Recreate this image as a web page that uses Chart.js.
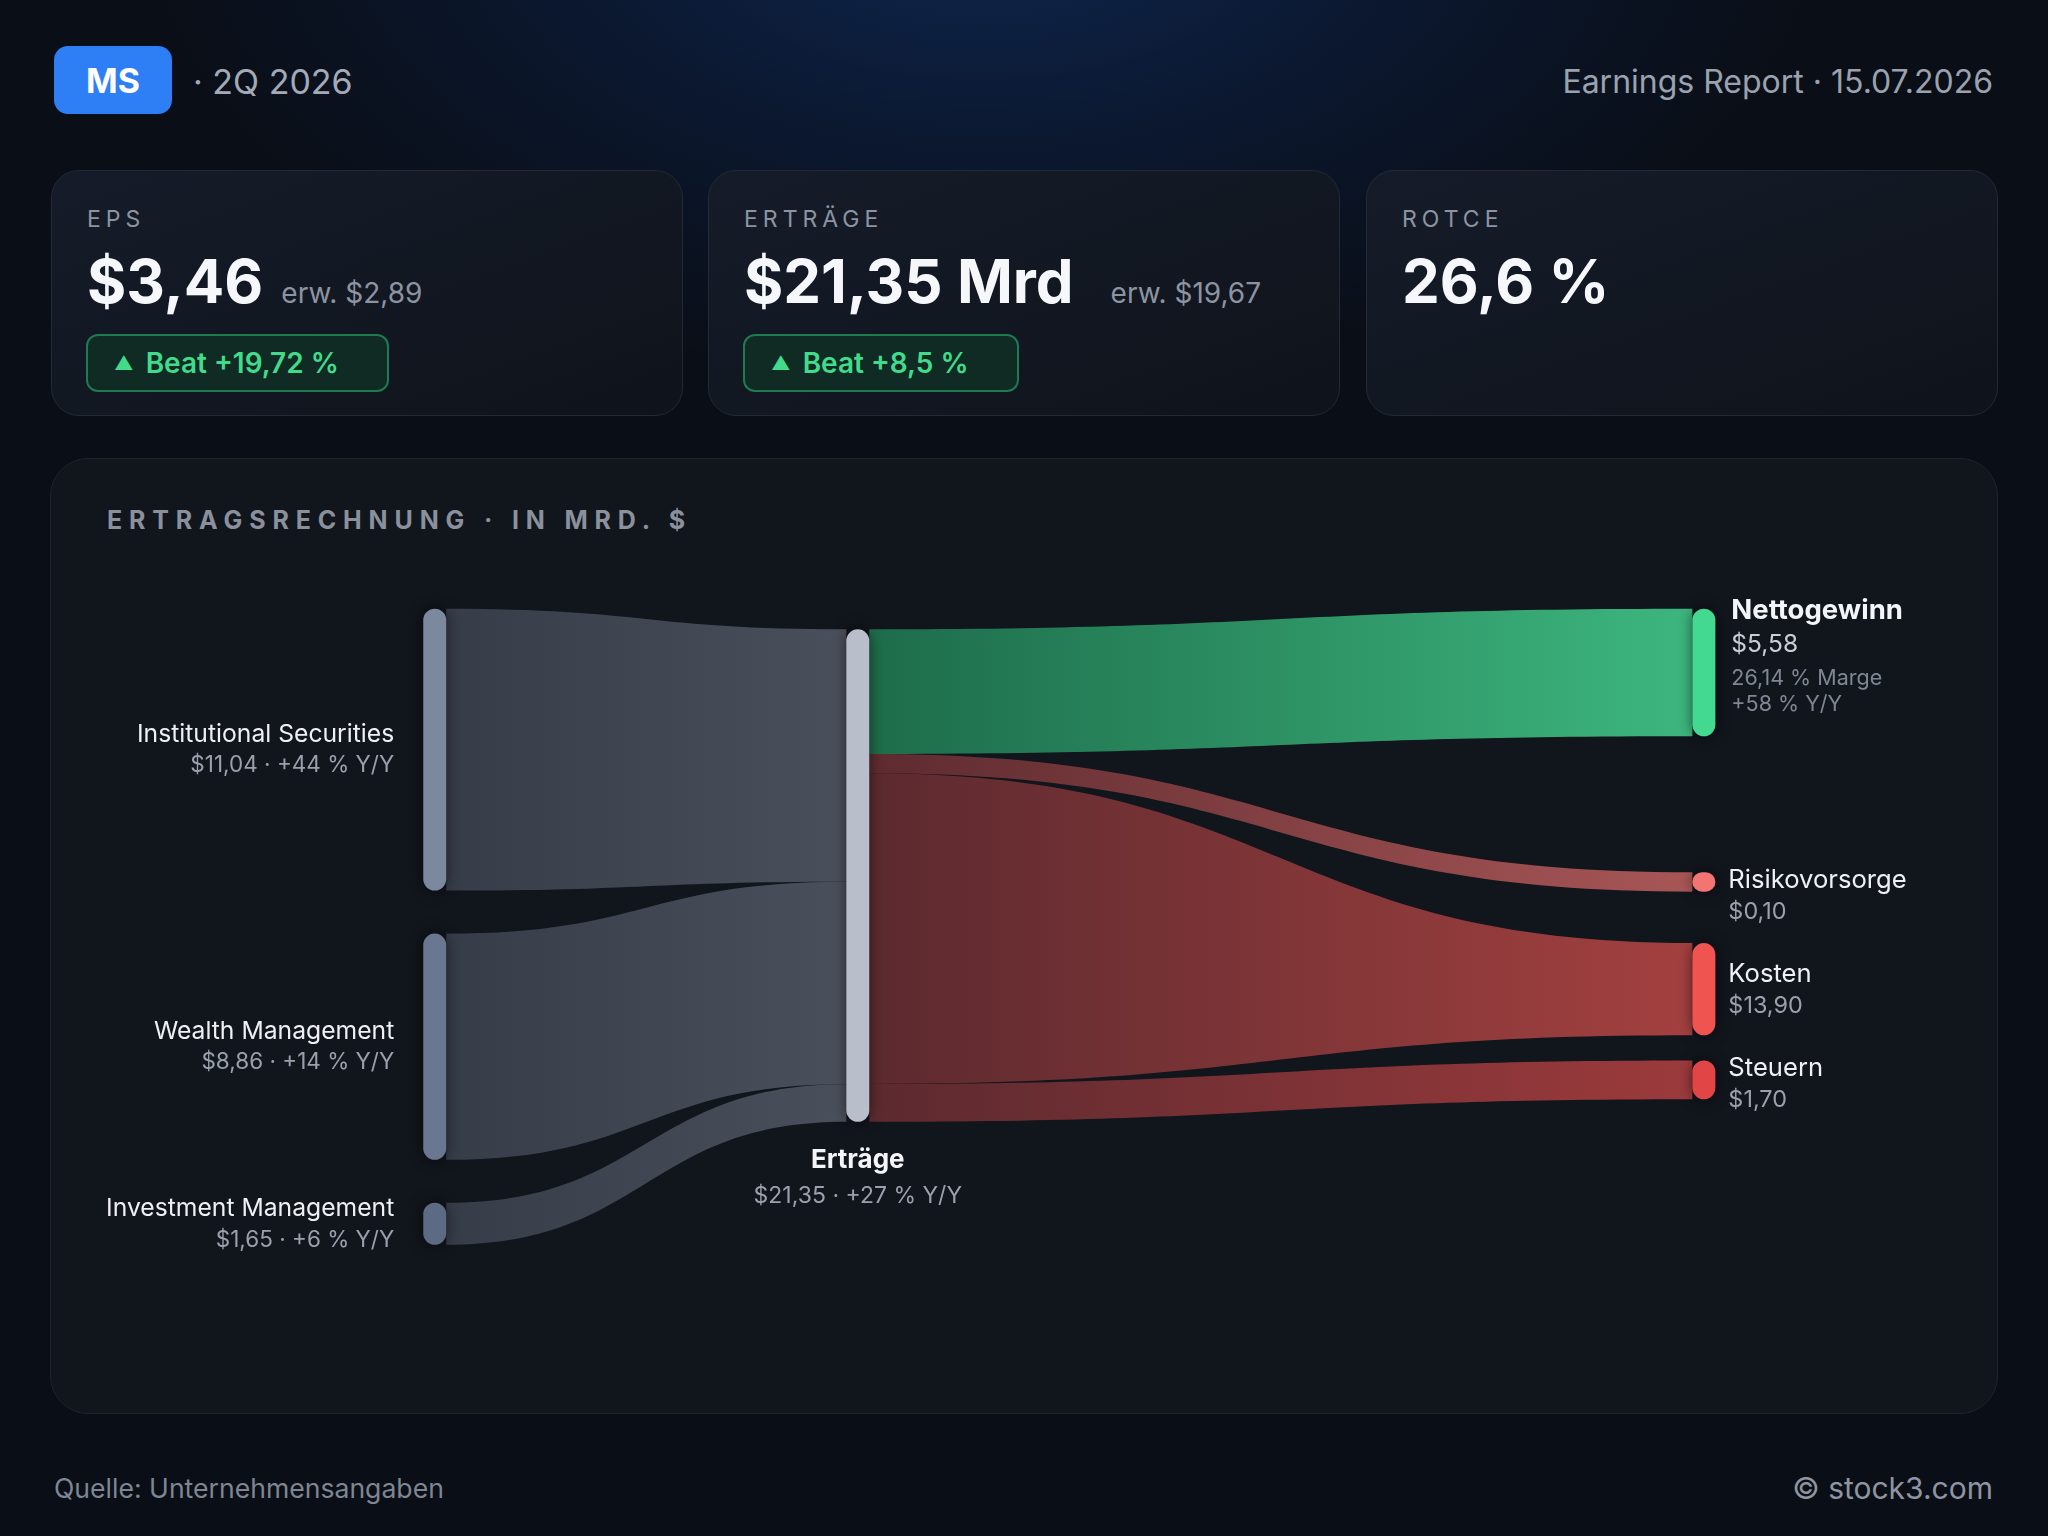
<!DOCTYPE html>
<html lang="de">
<head>
<meta charset="utf-8">
<title>MS 2Q 2026 – Ertragsrechnung</title>
<script src="https://cdn.jsdelivr.net/npm/chart.js@4.4.1/dist/chart.umd.min.js"></script>
<style>
  html, body { margin: 0; padding: 0; }
  body {
    width: 2048px; height: 1536px; position: relative; overflow: hidden;
    font-family: Inter, "Noto Sans", sans-serif; color: #f3f5f8;
    background:
      radial-gradient(ellipse 1100px 620px at 48% -6%, #0f2750 0%, #0b1830 38%, rgba(10,15,25,0) 78%),
      #0a0e16;
  }
  .abs { position: absolute; }
  #badge {
    left: 54px; top: 46px; width: 118px; height: 68px; border-radius: 14px;
    background: #2e7ef6; color: #fff; font-weight: 700; font-size: 34px;
    display: flex; align-items: center; justify-content: center;
  }
  #quarter { left: 193px; top: 81px; transform: translateY(-50%); font-size: 34px; color: #a3aab6; }
  #report { right: 55px; top: 81px; transform: translateY(-50%); font-size: 32px; color: #9ba2ae; }
  .card {
    top: 170px; width: 632px; height: 246px; border-radius: 28px; box-sizing: border-box;
    border: 1.5px solid #232a35; background: linear-gradient(160deg, #151c29 0%, #0f131b 100%);
  }
  .card .lbl { position: absolute; left: 35px; top: 36px; font-size: 23px; line-height: 24px; letter-spacing: 5px; color: #8d94a1; }
  .card .row { position: absolute; left: 35px; top: 79px; display: flex; align-items: baseline; white-space: nowrap; }
  .card .big { font-size: 60px; line-height: 62px; font-weight: 700; color: #f5f7fb; }
  .card .est { font-size: 28px; color: #8d94a1; }
  .card .beat {
    position: absolute; left: 34px; top: 163px; height: 58px; box-sizing: border-box;
    border: 2px solid #1f7a52; background: #102a24; border-radius: 12px;
    padding: 0 48px 0 26px; display: flex; align-items: center;
    font-size: 28px; font-weight: 600; color: #41db8b; white-space: nowrap;
  }
  .card .beat .tri { font-size: 19px; margin-right: 12px; }
  #panel {
    left: 50px; top: 458px; width: 1948px; height: 956px; box-sizing: border-box;
    border-radius: 38px; border: 1.5px solid #1f242d; background: #11151c;
  }
  #ptitle {
    left: 107px; top: 520px; transform: translateY(-50%);
    font-size: 25px; font-weight: 700; letter-spacing: 6.85px; color: #8a919d;
  }
  #chartBox { left: 54px; top: 563px; width: 1946px; height: 840px; }
  #source { left: 54px; top: 1488px; transform: translateY(-50%); font-size: 26.6px; color: #7e8693; }
  #copy { right: 55px; top: 1488px; transform: translateY(-50%); font-size: 30px; color: #8e95a1; }
</style>
</head>
<body>
<div id="badge" class="abs">MS</div>
<div id="quarter" class="abs">· 2Q 2026</div>
<div id="report" class="abs">Earnings Report · 15.07.2026</div>
<div id="cards"></div>
<div id="panel" class="abs"></div>
<div id="ptitle" class="abs">ERTRAGSRECHNUNG · IN MRD. $</div>
<div id="chartBox" class="abs"><canvas id="chart"></canvas></div>
<div id="source" class="abs">Quelle: Unternehmensangaben</div>
<div id="copy" class="abs">© stock3.com</div>

<script>
// KPI-Kacheln
const kpiLabels = ['EPS', 'ERTRÄGE', 'ROTCE'];
const kpiActual = ['$3,46', '$21,35 Mrd', '26,6 %'];
const kpiEstimate = ['$2,89', '$19,67', null];
const kpiBeat = ['+19,72 %', '+8,5 %', null];

// Ertragsrechnung (Mrd. $)
const sources = ['Institutional Securities', 'Wealth Management', 'Investment Management'];
const sourceValues = [11.04, 8.86, 1.65];
const sourceGrowth = ['+44 %', '+14 %', '+6 %'];
const hubName = 'Erträge';
const hubValue = 21.35;
const hubGrowth = '+27 %';
const targets = ['Nettogewinn', 'Risikovorsorge', 'Kosten', 'Steuern'];
const targetValues = [5.58, 0.10, 13.90, 1.70];
const targetGrowth = ['+58 %', null, null, null];

// Layout (in Mrd.-Einheiten der y-Achse)
const LEFT_TOP = 2.0, LEFT_GAP = 1.88, LEFT_K = 1.117;
const HUB_TOP = 2.9;
const RIGHT_TOP = 2.0;
const RIGHT_GAPS = [0, 5.95, 2.25, 1.1];
const RIGHT_SQUEEZE = [1, 1, 0.29, 1];
const MIN_W = 0.85;
const NODE_W = 23;

const sourceColors = ['#7b889e', '#6a7791', '#5d6a83'];
const hubColor = '#b9becb';
const targetColors = ['#44d990', '#f47373', '#ef5451', '#e24545'];
const flowIn = ['#363c48', '#4a505b'];
const flowOut = [['#1d6c4a', '#3db67e'], ['#5e2b30', '#a85656'], ['#5c2a2f', '#a3403f'], ['#5c2a2f', '#9c3a3c']];

const fmt = v => '$' + v.toFixed(2).replace('.', ',');

// Kacheln aufbauen
const cardLeft = [51, 708, 1366];
const cards = document.getElementById('cards');
kpiLabels.forEach((lbl, i) => {
  const c = document.createElement('div');
  c.className = 'card abs';
  c.style.left = cardLeft[i] + 'px';
  let html = '<div class="lbl">' + lbl + '</div><div class="row"><span class="big">' + kpiActual[i] + '</span>';
  if (kpiEstimate[i]) html += '<span class="est" style="margin-left:' + (i === 1 ? 37 : 18) + 'px">erw. ' + kpiEstimate[i] + '</span>';
  html += '</div>';
  if (kpiBeat[i]) html += '<div class="beat"><span class="tri">▲</span>Beat ' + kpiBeat[i] + '</div>';
  c.innerHTML = html;
  cards.appendChild(c);
});

function sankeyLayout() {
  const left = [];
  let cur = LEFT_TOP;
  sourceValues.forEach(v => {
    const h = v * LEFT_K;
    left.push({ top: cur, bot: cur + h });
    cur += h + LEFT_GAP;
  });
  const inTotal = sourceValues.reduce((a, b) => a + b, 0);
  const hub = { top: HUB_TOP, bot: HUB_TOP + inTotal };
  const inEnds = [];
  cur = hub.top;
  sourceValues.forEach(v => { inEnds.push({ top: cur, bot: cur + v }); cur += v; });
  const small = targetValues.filter(v => v < MIN_W);
  const bigSum = targetValues.filter(v => v >= MIN_W).reduce((a, b) => a + b, 0);
  const f = (inTotal - small.length * MIN_W) / bigSum;
  const outStarts = [];
  cur = hub.top;
  targetValues.forEach(v => {
    const w = v < MIN_W ? MIN_W : v * f;
    outStarts.push({ top: cur, bot: cur + w });
    cur += w;
  });
  const right = [];
  cur = RIGHT_TOP;
  targetValues.forEach((v, i) => {
    cur += RIGHT_GAPS[i];
    const h = Math.max(v * RIGHT_SQUEEZE[i], MIN_W);
    right.push({ top: cur, bot: cur + h });
    cur += h;
  });
  return { left, hub, inEnds, outStarts, right };
}

function drawFlow(ctx, x0, a, x1, b, cols) {
  const xm = (x0 + x1) / 2;
  const g = ctx.createLinearGradient(x0, 0, x1, 0);
  g.addColorStop(0, cols[0]);
  g.addColorStop(1, cols[1]);
  ctx.beginPath();
  ctx.moveTo(x0, a.top);
  ctx.bezierCurveTo(xm, a.top, xm, b.top, x1, b.top);
  ctx.lineTo(x1, b.bot);
  ctx.bezierCurveTo(xm, b.bot, xm, a.bot, x0, a.bot);
  ctx.closePath();
  ctx.fillStyle = g;
  ctx.fill();
}

function drawNode(ctx, xc, top, bot, color) {
  const h = bot - top;
  ctx.save();
  ctx.shadowColor = 'rgba(0,0,0,0.55)';
  ctx.shadowBlur = 14;
  ctx.fillStyle = color;
  ctx.beginPath();
  ctx.roundRect(xc - NODE_W / 2, top, NODE_W, h, Math.min(NODE_W / 2, h / 2));
  ctx.fill();
  ctx.restore();
}

const sankeyPlugin = {
  id: 'sankey',
  afterDatasetsDraw(chart) {
    const { ctx, scales: { x, y } } = chart;
    const L = sankeyLayout();
    const px = r => ({ top: y.getPixelForValue(r.top), bot: y.getPixelForValue(r.bot) });
    const xl = x.getPixelForValue(0), xh = x.getPixelForValue(1), xr = x.getPixelForValue(3);
    const half = NODE_W / 2;

    // Flüsse
    L.left.forEach((n, i) => drawFlow(ctx, xl + half, px(n), xh - half, px(L.inEnds[i]), flowIn));
    L.right.forEach((n, i) => drawFlow(ctx, xh + half, px(L.outStarts[i]), xr - half, px(n), flowOut[i]));

    // Knoten
    L.left.forEach((n, i) => { const p = px(n); drawNode(ctx, xl, p.top, p.bot, sourceColors[i]); });
    const hp = px(L.hub);
    drawNode(ctx, xh, hp.top, hp.bot, hubColor);
    L.right.forEach((n, i) => { const p = px(n); drawNode(ctx, xr, p.top, p.bot, targetColors[i]); });

    // Beschriftungen
    ctx.save();
    ctx.textBaseline = 'middle';
    ctx.textAlign = 'right';
    L.left.forEach((n, i) => {
      const p = px(n), c = (p.top + p.bot) / 2;
      ctx.font = '400 24.7px Inter';
      ctx.fillStyle = '#eef0f4';
      ctx.fillText(sources[i], xl - half - 29, c - 15);
      ctx.font = '400 22.5px Inter';
      ctx.fillStyle = '#9aa1ac';
      ctx.fillText(fmt(sourceValues[i]) + ' · ' + sourceGrowth[i] + ' Y/Y', xl - half - 29, c + 16);
    });

    ctx.textAlign = 'center';
    ctx.font = '700 26px Inter';
    ctx.fillStyle = '#f3f5f8';
    ctx.fillText(hubName, xh, hp.bot + 38);
    ctx.font = '400 23px Inter';
    ctx.fillStyle = '#9aa1ac';
    ctx.fillText(fmt(hubValue) + ' · ' + hubGrowth + ' Y/Y', xh, hp.bot + 74);

    ctx.textAlign = 'left';
    L.right.forEach((n, i) => {
      const p = px(n), c = (p.top + p.bot) / 2;
      if (targetGrowth[i]) {
        const lx = xr + half + 16;
        ctx.font = '700 27.5px Inter';
        ctx.fillStyle = '#f3f5f8';
        ctx.fillText(targets[i], lx, p.top + 2);
        ctx.font = '400 24.5px Inter';
        ctx.fillStyle = '#c9ced6';
        ctx.fillText(fmt(targetValues[i]), lx, p.top + 36);
        ctx.font = '400 21.5px Inter';
        ctx.fillStyle = '#7f8794';
        const margin = (targetValues[i] / hubValue * 100).toFixed(2).replace('.', ',');
        ctx.fillText(margin + ' % Marge', lx, p.top + 70);
        ctx.fillText(targetGrowth[i] + ' Y/Y', lx, p.top + 96);
      } else {
        const lx = xr + half + 13;
        const y0 = Math.max(p.top + 8, c - 15);
        ctx.font = '400 25.6px Inter';
        ctx.fillStyle = '#eef0f4';
        ctx.fillText(targets[i], lx, y0);
        ctx.font = '400 23.4px Inter';
        ctx.fillStyle = '#9aa1ac';
        ctx.fillText(fmt(targetValues[i]), lx, y0 + 32);
      }
    });
    ctx.restore();
  }
};

new Chart(document.getElementById('chart'), {
  type: 'scatter',
  data: { datasets: [{ data: [], pointRadius: 0 }] },
  options: {
    responsive: true,
    maintainAspectRatio: false,
    animation: false,
    layout: { padding: 0 },
    plugins: { legend: { display: false }, tooltip: { enabled: false } },
    scales: {
      x: { type: 'linear', min: -0.9, max: 3.7, display: false },
      y: { type: 'linear', min: 0, max: 36.75, reverse: true, display: false }
    }
  },
  plugins: [sankeyPlugin]
});
</script>
</body>
</html>
